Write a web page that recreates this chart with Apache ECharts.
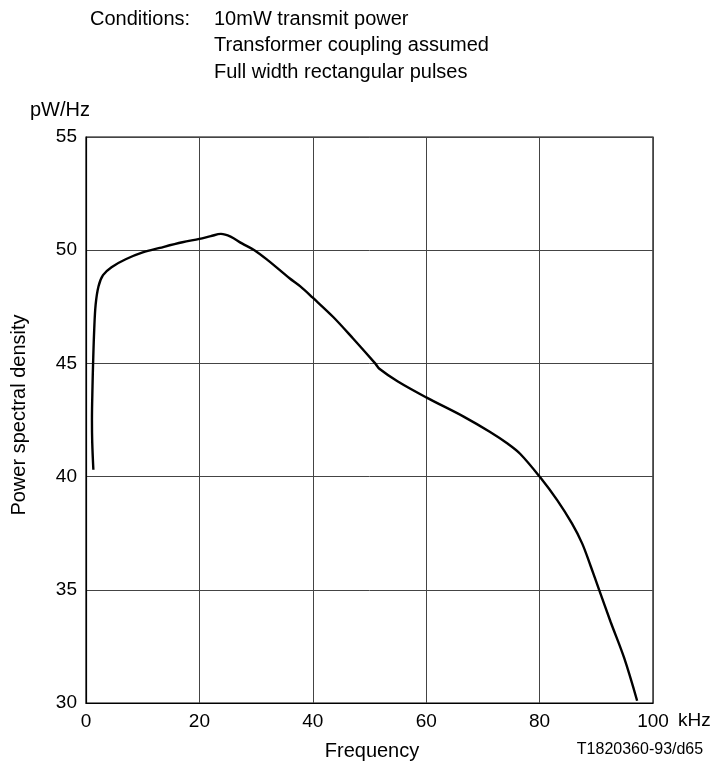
<!DOCTYPE html>
<html>
<head>
<meta charset="utf-8">
<script src="https://cdn.jsdelivr.net/npm/echarts@6/dist/echarts.min.js"></script>
<style>
  html, body { margin: 0; padding: 0; background: #fff; }
  #chart { width: 718px; height: 762px; }
</style>
</head>
<body>
<div id="chart"></div>
<script>
// frequency (kHz) vs power spectral density (pW/Hz)
const freq = [1.3, 1.1, 1.05, 1.15, 1.25, 1.45, 1.7, 2.2, 3, 4.5, 7, 10, 13, 17, 20, 22, 23.8,
  25.5, 27.5, 29.7, 32.1, 35.9, 37.8, 40, 43.6, 47.1, 51, 51.8, 55, 60, 66.6, 71.2, 74.4,
  76.6, 80, 83.1, 85.7, 87.5, 89, 90.5, 92.5, 94.9, 97.2];
const psd = [40.3, 41.5, 42.5, 44, 45, 46.5, 47.6, 48.4, 48.9, 49.25, 49.6, 49.9, 50.1, 50.35, 50.5, 50.62, 50.72,
  50.6, 50.3, 50, 49.55, 48.76, 48.4, 47.9, 47.05, 46.1, 45, 44.75, 44.2, 43.5, 42.65, 41.98, 41.45,
  41.0, 40, 38.96, 37.93, 37.05, 36.05, 35, 33.6, 32, 30.1];
const xTicks = [0, 20, 40, 60, 80, 100];
const yTicks = [30, 35, 40, 45, 50, 55];
const conditions = ['10mW transmit power', 'Transformer coupling assumed', 'Full width rectangular pulses'];

const FONT = '"Liberation Sans", Arial, sans-serif';
const chart = echarts.init(document.getElementById('chart'), null, { renderer: 'canvas' });

const option = {
  backgroundColor: '#fff',
  animation: false,
  textStyle: { fontFamily: FONT },
  grid: {
    left: 86, right: 65, top: 137, bottom: 59,
    show: true, borderColor: '#000', borderWidth: 1.2
  },
  xAxis: {
    type: 'value',
    min: xTicks[0], max: xTicks[xTicks.length - 1], interval: 20,
    axisLine: { show: true, lineStyle: { color: '#000', width: 1.2 } },
    axisTick: { show: false },
    splitLine: { show: true, lineStyle: { color: '#444', width: 1 } },
    axisLabel: { color: '#000', fontSize: 19, fontFamily: FONT, margin: 9 }
  },
  yAxis: {
    type: 'value',
    min: yTicks[0], max: yTicks[yTicks.length - 1], interval: 5,
    axisLine: { show: true, lineStyle: { color: '#000', width: 1.2 } },
    axisTick: { show: false },
    splitLine: { show: true, lineStyle: { color: '#444', width: 1 } },
    axisLabel: { color: '#000', fontSize: 19, fontFamily: FONT, margin: 9 }
  },
  graphic: [
    { type: 'text', x: 90, y: 19, style: { text: 'Conditions:', fontSize: 20, fontFamily: FONT, fill: '#000', verticalAlign: 'middle' } },
    { type: 'text', x: 214, y: 19, style: { text: conditions[0], fontSize: 20, fontFamily: FONT, fill: '#000', verticalAlign: 'middle' } },
    { type: 'text', x: 214, y: 45.5, style: { text: conditions[1], fontSize: 20, fontFamily: FONT, fill: '#000', verticalAlign: 'middle' } },
    { type: 'text', x: 214, y: 72, style: { text: conditions[2], fontSize: 20, fontFamily: FONT, fill: '#000', verticalAlign: 'middle' } },
    { type: 'text', x: 30, y: 110, style: { text: 'pW/Hz', fontSize: 20, fontFamily: FONT, fill: '#000', verticalAlign: 'middle' } },
    { type: 'text', x: 678, y: 721, style: { text: 'kHz', fontSize: 19, fontFamily: FONT, fill: '#000', verticalAlign: 'middle' } },
    { type: 'text', x: 372, y: 751, style: { text: 'Frequency', fontSize: 20, fontFamily: FONT, fill: '#000', align: 'center', verticalAlign: 'middle' } },
    { type: 'text', x: 640, y: 750, style: { text: 'T1820360-93/d65', fontSize: 16, fontFamily: FONT, fill: '#000', align: 'center', verticalAlign: 'middle' } },
    { type: 'text', x: 19, y: 415, rotation: Math.PI / 2, style: { text: 'Power spectral density', fontSize: 20, fontFamily: FONT, fill: '#000', align: 'center', verticalAlign: 'middle' } }
  ],
  series: [{
    type: 'line',
    data: freq.map((f, i) => [f, psd[i]]),
    showSymbol: false,
    smooth: 0.35,
    lineStyle: { color: '#000', width: 2.4 }
  }]
};
chart.setOption(option);
</script>
</body>
</html>
